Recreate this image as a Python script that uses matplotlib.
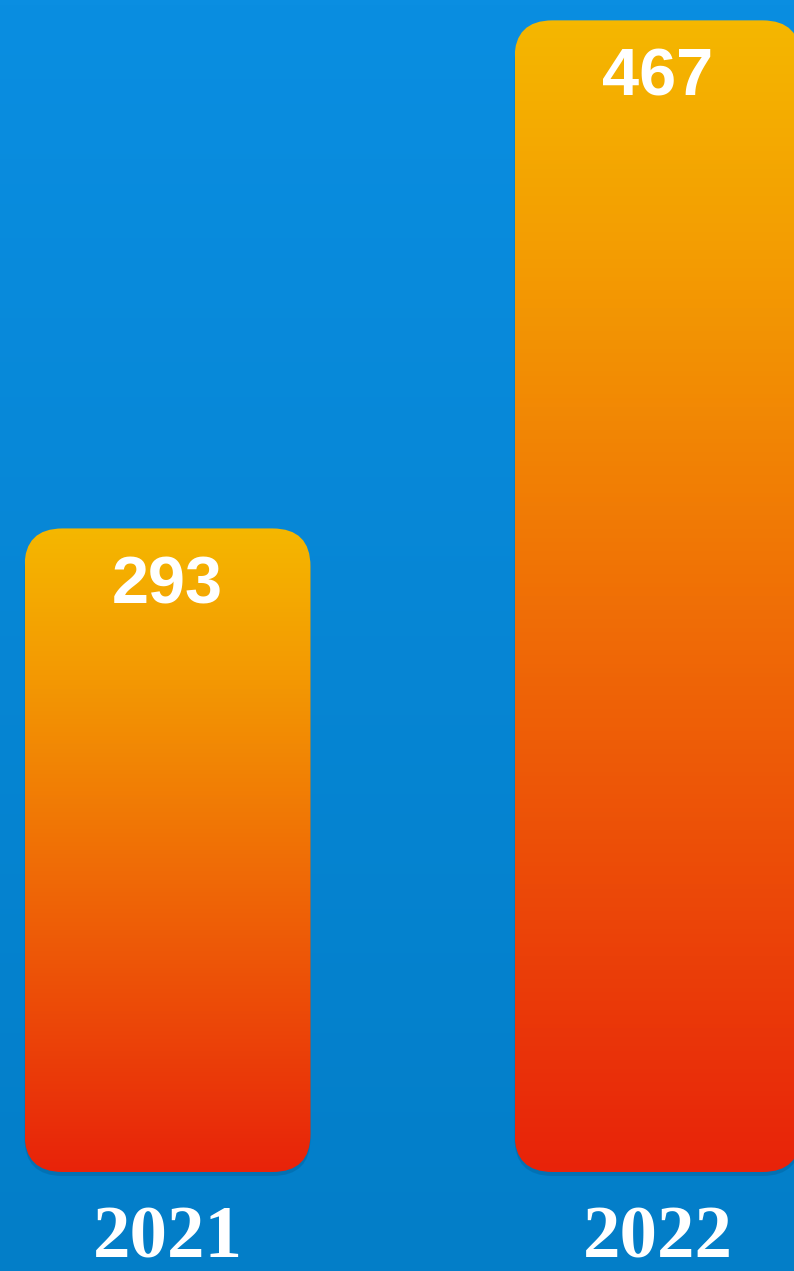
import numpy as np
import matplotlib
matplotlib.use('Agg')
import matplotlib.pyplot as plt
from matplotlib.patches import FancyBboxPatch
from matplotlib.colors import LinearSegmentedColormap
from matplotlib import transforms

years = ['2021', '2022']
values = [293, 467]

W, H = 794, 1271
DPI = 100

# pixel layout of the picture
bar_w_px = 286
x_unit_px = 490          # px between the two bar centers
first_center_px = 167.5
y_unit_px = 2.92         # px per value unit
zero_px_from_top = 1384
base_px_from_top = 1172
radius_px = 38


def PlotBars() -> None:
    fig = plt.figure(figsize=(W / DPI, H / DPI), dpi=DPI)
    ax = fig.add_axes([0, 0, 1, 1])
    ax.set_axis_off()

    x0 = -first_center_px / x_unit_px
    y_bottom = (zero_px_from_top - H) / y_unit_px
    y_top = zero_px_from_top / y_unit_px
    base = (zero_px_from_top - base_px_from_top) / y_unit_px

    # background gradient
    bg = LinearSegmentedColormap.from_list('bg', ['#037ec8', '#0a8ee1'])
    ax.imshow(np.linspace(0, 1, 256).reshape(-1, 1), cmap=bg, origin='lower',
              extent=[0, 1, 0, 1], transform=ax.transAxes, aspect='auto', zorder=0)

    bar_cmap = LinearSegmentedColormap.from_list(
        'bar', ['#e8230a', '#ec4a08', '#f07006', '#f39603', '#f5b700'])

    x = np.arange(len(years))
    width = bar_w_px / x_unit_px
    bars = ax.bar(x, np.array(values) - base, bottom=base, width=width, alpha=0)

    aspect = x_unit_px / y_unit_px
    r = radius_px / x_unit_px
    trans = transforms.blended_transform_factory(ax.transData, ax.transAxes)
    for rect, v, yr in zip(bars, values, years):
        bx, by = rect.get_x(), rect.get_y()
        bw, bh = rect.get_width(), rect.get_height()
        # soft shadow
        sh = FancyBboxPatch((bx, by - 4 / y_unit_px), bw, bh,
                            boxstyle=f'round,pad=0,rounding_size={r}',
                            mutation_aspect=aspect, fc='#00335a', ec='none',
                            alpha=0.18, zorder=1)
        ax.add_patch(sh)
        patch = FancyBboxPatch((bx, by), bw, bh,
                               boxstyle=f'round,pad=0,rounding_size={r}',
                               mutation_aspect=aspect, fc='none', ec='none', zorder=2)
        ax.add_patch(patch)
        im = ax.imshow(np.linspace(0, 1, 256).reshape(-1, 1), cmap=bar_cmap,
                       origin='lower', extent=[bx, bx + bw, by, by + bh],
                       aspect='auto', zorder=2)
        im.set_clip_path(patch)

        ax.text(bx + bw / 2, v - 58 / y_unit_px, str(v),
                ha='center', va='center', color='white', fontsize=48,
                fontweight='bold', family='Liberation Sans', zorder=3)
        ax.text(bx + bw / 2, 1 - 1239 / H, yr, transform=trans,
                ha='center', va='center', color='white', fontsize=54,
                fontweight='bold', family='Liberation Serif', zorder=3)

    ax.set_xlim(x0, x0 + W / x_unit_px)
    ax.set_ylim(y_bottom, y_top)
    fig.savefig('out.png', dpi=DPI)


if __name__ == '__main__':
    PlotBars()
